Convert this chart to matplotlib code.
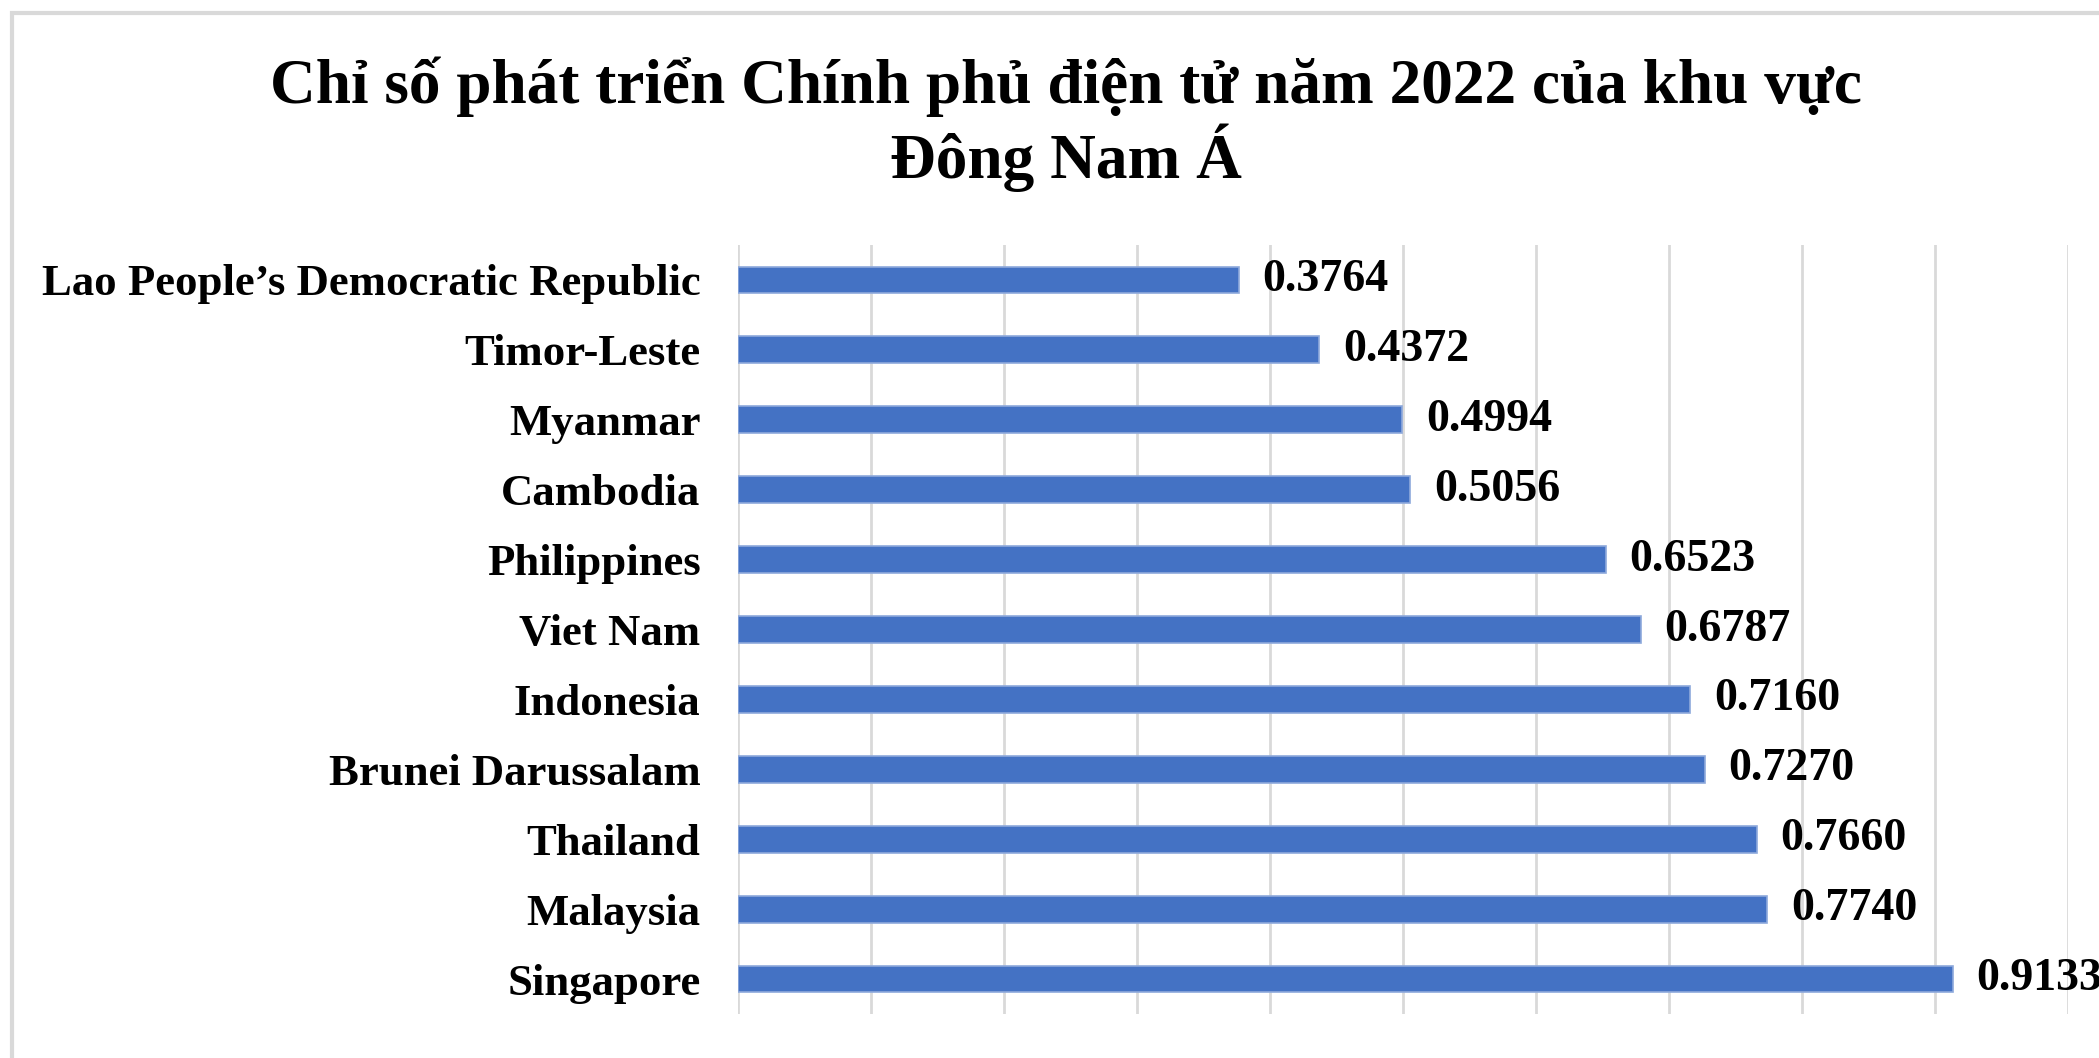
import matplotlib.pyplot as plt
from matplotlib.patches import Rectangle

countries = ["Lao People’s Democratic Republic", "Timor-Leste", "Myanmar", "Cambodia",
             "Philippines", "Viet Nam", "Indonesia", "Brunei Darussalam", "Thailand",
             "Malaysia", "Singapore"]
egdi = [0.3764, 0.4372, 0.4994, 0.5056, 0.6523, 0.6787, 0.7160, 0.7270, 0.7660, 0.7740, 0.9133]
x_ticks = [0.0, 0.1, 0.2, 0.3, 0.4, 0.5, 0.6, 0.7, 0.8, 0.9, 1.0]

title = "Chỉ số phát triển Chính phủ điện tử năm 2022 của khu vực\nĐông Nam Á"

plt.rcParams["font.family"] = ["Liberation Serif", "DejaVu Serif"]

fig = plt.figure(figsize=(20.99, 10.58), dpi=100)

# khung viền xám nhạt quanh biểu đồ
fig.patches.append(Rectangle((12 / 2099, -0.2), 1.2, 1.2 - 13 / 1058,
                             transform=fig.transFigure, fill=False,
                             edgecolor="#D9D9D9", linewidth=3))

ax = fig.add_axes([0.3516, 0.0416, 0.6336, 0.7268])
pos = list(range(len(countries)))
bars = ax.barh(pos, egdi, height=0.385, color="#4472C4", edgecolor="#8EA9DB",
               linewidth=1.2, zorder=3)

ax.set_xlim(0, 1)
ax.set_ylim(len(countries) - 0.5, -0.5)
ax.set_xticks(x_ticks)
ax.set_yticks(pos)
ax.set_yticklabels(countries, fontsize=32.2, fontweight="bold")
ax.tick_params(axis="x", length=0, labelbottom=False)
ax.tick_params(axis="y", length=0, pad=27)
ax.grid(axis="x", color="#D9D9D9", linewidth=2, zorder=0)
for s in ax.spines.values():
    s.set_visible(False)

for b, v in zip(bars, egdi):
    ax.annotate(f"{v:.4f}", (v, b.get_y() + b.get_height() / 2), xytext=(17, 0),
                textcoords="offset points", va="center", ha="left",
                fontsize=33, fontweight="bold", annotation_clip=False)

fig.text(0.508, 0.883, title, ha="center", va="center", fontsize=45.5,
         fontweight="bold", linespacing=1.12)

fig.savefig("out.png", dpi=100)
